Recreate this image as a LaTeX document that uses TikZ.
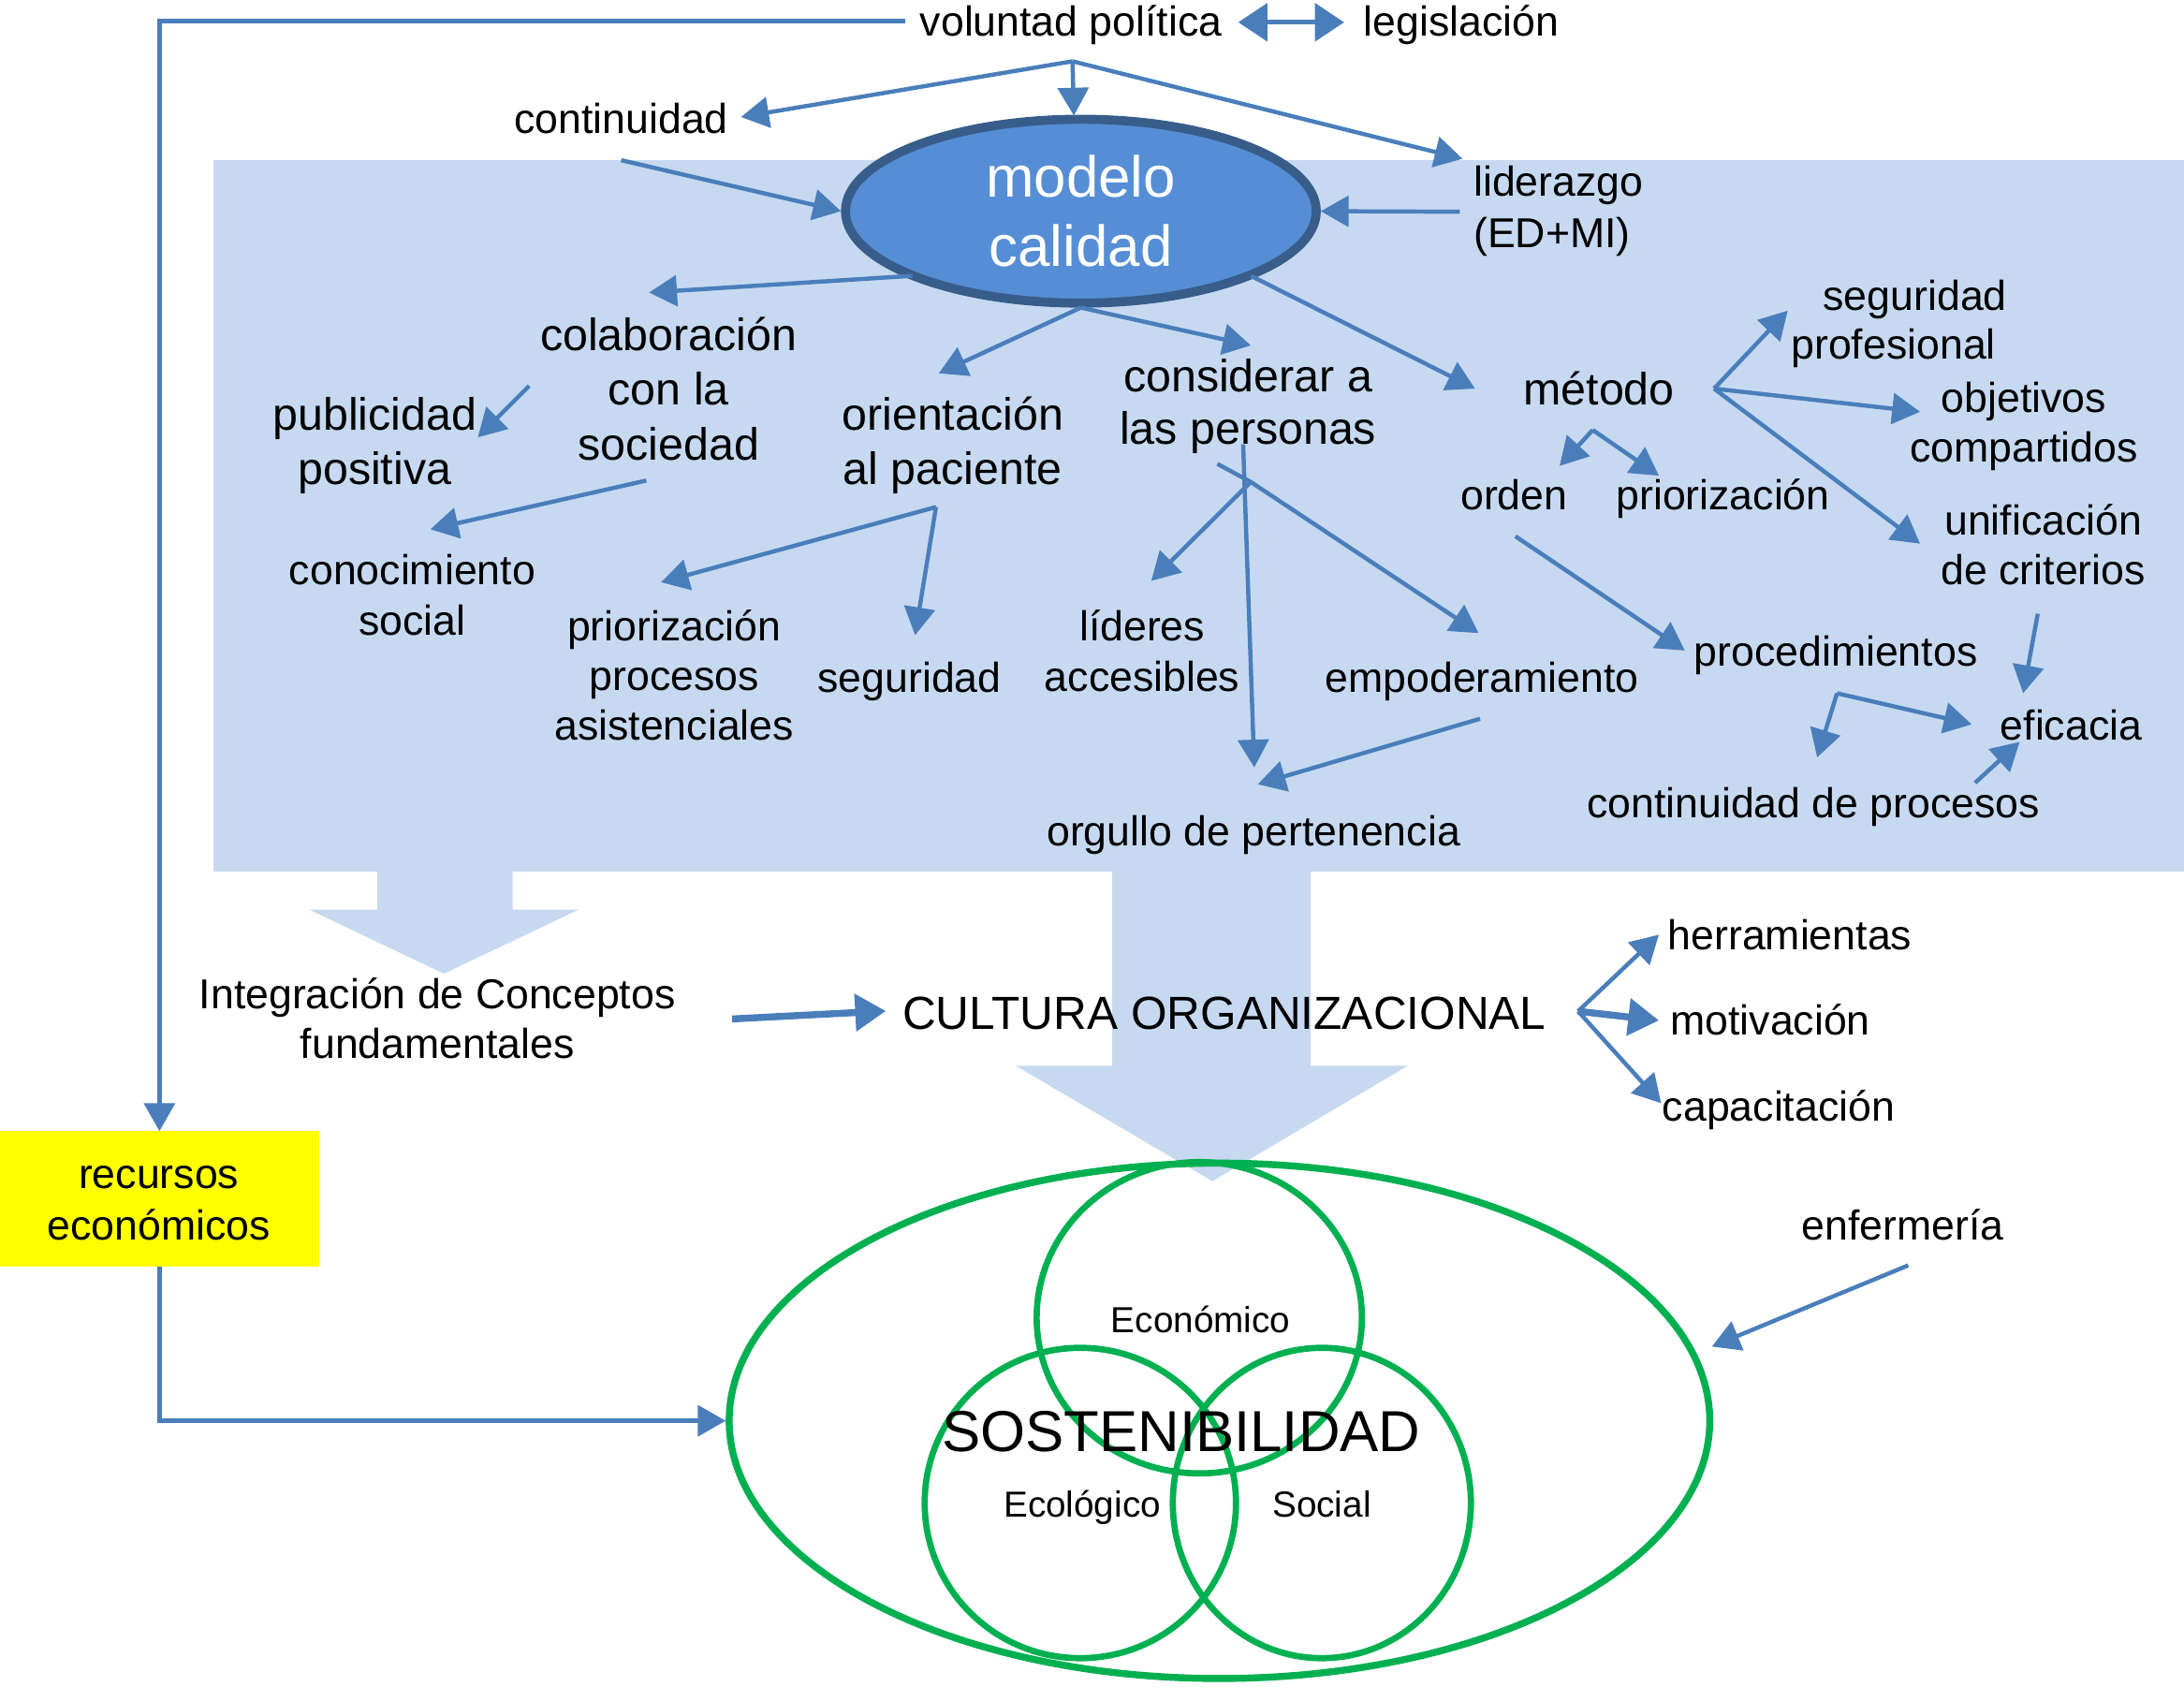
\documentclass[tikz,border=0pt]{standalone}
\usepackage{fontspec}
\setmainfont{Liberation Sans}
\usetikzlibrary{arrows.meta,shapes.geometric}
\definecolor{bgblue}{HTML}{C6D9F0}
\definecolor{lnblue}{HTML}{4A7EBB}
\definecolor{elfill}{HTML}{558ED5}
\definecolor{eldraw}{HTML}{385D8A}
\definecolor{grn}{HTML}{00B050}
\definecolor{yel}{HTML}{FFFF00}
\begin{document}
\begin{tikzpicture}[x=1pt,y=-1pt,
  lab/.style={inner sep=0pt, outer sep=0pt, anchor=base, align=center, font=\fontsize{30}{37}\selectfont},
  conn/.style={draw=lnblue, line width=3pt, -{Triangle[length=20pt,width=22pt]}},
  thickconn/.style={draw=lnblue, line width=5pt, -{Triangle[length=22pt,width=26pt]}},
  plainconn/.style={draw=lnblue, line width=3pt},
  venn/.style={ellipse, draw=grn, line width=4.5pt, inner sep=0pt},
  fs/.style={font=\fontsize{30}{#1}\selectfont},
  fb/.style={font=\fontsize{32.5}{#1}\selectfont}
]
\useasboundingbox (0,0) rectangle (1568,1211);
% background panel and broad arrows
\fill[bgblue] (153,115) rectangle (1568,626);
\fill[bgblue] (271,624) -- (368,624) -- (368,653) -- (415.5,653) -- (318.7,699) -- (222,653) -- (271,653) -- cycle;
\fill[bgblue] (798.5,624) -- (941,624) -- (941,765) -- (1011,765) -- (870.4,848) -- (729,765) -- (798.5,765) -- cycle;

% sustainability ellipses
\node[venn, line width=5pt, minimum width=704pt, minimum height=370pt] (sost) at (875.5,1020) {};
\node[venn, minimum width=233.5pt, minimum height=223.5pt] (eco) at (861,946) {};
\node[venn, minimum width=223.5pt, minimum height=222.8pt] (ecol) at (775.6,1079) {};
\node[venn, minimum width=214pt, minimum height=222.8pt] (soc) at (949,1079) {};
\node[lab, font=\fontsize{26}{30}\selectfont] (ecoT) at (862,957) {Económico};
\node[lab, font=\fontsize{41.5}{50}\selectfont] (sostT) at (848,1042) {SOSTENIBILIDAD};
\node[lab, font=\fontsize{26}{30}\selectfont] (ecolT) at (777,1089) {Ecológico};
\node[lab, font=\fontsize{26}{30}\selectfont] (socT) at (949,1089) {Social};

% text nodes (multi-line nodes placed at the baseline of their last line)
\node[lab] (vol) at (769,26) {voluntad política};
\node[lab] (leg) at (1049,26) {legislación};
\node[lab] (cont) at (446,96) {continuidad};
\node[lab, anchor=base west, align=left] (lid) at (1058,178) {liderazgo\\(ED+MI)};
\node[ellipse, fill=elfill, draw=eldraw, line width=6.5pt, minimum width=338pt, minimum height=132pt,
      inner sep=0pt, text=white, align=center, font=\fontsize{41.5}{50}\selectfont] (mc) at (776,151.6) {modelo\\calidad};
\node[lab, fb=39] (colab) at (480,330) {colaboración\\con la\\sociedad};
\node[lab, fb=39] (pub) at (269,348) {publicidad\\positiva};
\node[lab, fs=36] (conoc) at (296,456) {conocimiento\\social};
\node[lab, fb=39] (orient) at (684,348) {orientación\\al paciente};
\node[lab, fs=35.5] (prior) at (484,531) {priorización\\procesos\\asistenciales};
\node[lab] (seg) at (653,497) {seguridad};
\node[lab, fb=38] (consid) at (896,319) {considerar a\\las personas};
\node[lab, fs=36] (lideres) at (820,496) {líderes\\accesibles};
\node[lab] (empod) at (1064,497) {empoderamiento};
\node[lab] (orgullo) at (900,607) {orgullo de pertenencia};
\node[lab, fb=38] (metodo) at (1148,291) {método};
\node[lab] (orden) at (1087,366) {orden};
\node[lab] (priorz) at (1237,366) {priorización};
\node[lab, fs=35, anchor=base west, align=left] (segprof) at (1286,258) {\hspace*{23pt}seguridad\\profesional};
\node[lab, fs=36] (objet) at (1453,332) {objetivos\\compartidos};
\node[lab, fs=36] (unif) at (1467,420) {unificación\\de criterios};
\node[lab] (proced) at (1318,478) {procedimientos};
\node[lab] (efic) at (1487,531) {eficacia};
\node[lab] (contproc) at (1302,587) {continuidad de procesos};
\node[lab, fs=36] (integ) at (314,760) {Integración de Conceptos\\fundamentales};
\node[lab, font=\fontsize{33.3}{38}\selectfont] (cult) at (879,739) {CULTURA ORGANIZACIONAL};
\node[lab] (herr) at (1285,682) {herramientas};
\node[lab] (motiv) at (1271,743) {motivación};
\node[lab] (capac) at (1277,805) {capacitación};
\node[lab] (enf) at (1366,890) {enfermería};
\node[fill=yel, minimum width=229pt, minimum height=97pt, inner sep=0pt, outer sep=0pt] (rec) at (114.5,860.5) {};
\node[lab, fs=37] (recT) at (114,890) {recursos\\económicos};

% coordinates
\coordinate (vStart) at (650,15);
\coordinate (dA) at (889,16);
\coordinate (dB) at (965,16);
\coordinate (J0) at (770,44);
\coordinate (tCont) at (532,84);
\coordinate (tMc) at (771,83);
\coordinate (tLid) at (1050,114);
\coordinate (sCont) at (446,115);
\coordinate (sLid) at (1048,152);
\coordinate (sMc1) at (655,198);
\coordinate (tColab) at (466,210);
\coordinate (sColab) at (380,277);
\coordinate (tPub) at (343,314);
\coordinate (sSoc) at (464,345);
\coordinate (tConoc) at (309,380);
\coordinate (tOrient) at (674,268);
\coordinate (tConsid) at (898,248);
\coordinate (J2) at (672,364);
\coordinate (tPrior) at (474.5,418);
\coordinate (tSeg) at (657,456);
\coordinate (S0) at (874,333);
\coordinate (J3) at (898,346);
\coordinate (tLideres) at (826.5,417);
\coordinate (tEmpod) at (1061.6,454.5);
\coordinate (V0) at (892.5,319);
\coordinate (tOrg1) at (900.5,551);
\coordinate (sEmpod) at (1062.6,516);
\coordinate (tOrg2) at (903,563);
\coordinate (sMc2) at (898,198);
\coordinate (tMetodo) at (1059,279);
\coordinate (J4) at (1230.6,279);
\coordinate (tSegP) at (1283.5,223);
\coordinate (tObj) at (1378.5,295.6);
\coordinate (tUnif) at (1378.5,390.3);
\coordinate (J5) at (1143.5,308.7);
\coordinate (tOrden) at (1119.7,334.5);
\coordinate (tPriorz) at (1191,341.5);
\coordinate (sOrden) at (1088,385);
\coordinate (tProced) at (1209.6,467);
\coordinate (sUnif) at (1463,440.6);
\coordinate (tEfic1) at (1452.5,497.7);
\coordinate (J6) at (1318.9,497.7);
\coordinate (tCP) at (1304.6,543.8);
\coordinate (tEfic2) at (1415.6,520);
\coordinate (sCP) at (1418,562);
\coordinate (tEfic3) at (1450,532.6);
\coordinate (sInteg) at (525.6,731.5);
\coordinate (tCult) at (636,725.8);
\coordinate (J7) at (1133,726);
\coordinate (tHerr) at (1191,671);
\coordinate (tMotiv) at (1191,732.6);
\coordinate (tCapac) at (1192.6,792);
\coordinate (sEnf) at (1370,908.4);
\coordinate (tSost) at (1229,966.7);

% connectors
\draw[conn] (vStart) -| (rec.north);
\draw[draw=lnblue, line width=3.5pt, {Triangle[length=21pt,width=27pt]}-{Triangle[length=21pt,width=27pt]}] (dA) -- (dB);
\draw[conn] (J0) -- (tCont);
\draw[conn] (J0) -- (tMc);
\draw[conn] (J0) -- (tLid);
\draw[conn] (sCont) -- (mc.west);
\draw[conn] (sLid) -- (mc.east);
\draw[conn] (sMc1) -- (tColab);
\draw[conn] (sColab) -- (tPub);
\draw[conn] (sSoc) -- (tConoc);
\draw[conn] (mc.south) -- (tOrient);
\draw[conn] (mc.south) -- (tConsid);
\draw[conn] (J2) -- (tPrior);
\draw[conn] (J2) -- (tSeg);
\draw[plainconn] (S0) -- (J3);
\draw[conn] (J3) -- (tLideres);
\draw[conn] (J3) -- (tEmpod);
\draw[conn] (V0) -- (tOrg1);
\draw[conn] (sEmpod) -- (tOrg2);
\draw[conn] (sMc2) -- (tMetodo);
\draw[conn] (J4) -- (tSegP);
\draw[conn] (J4) -- (tObj);
\draw[conn] (J4) -- (tUnif);
\draw[conn] (J5) -- (tOrden);
\draw[conn] (J5) -- (tPriorz);
\draw[conn] (sOrden) -- (tProced);
\draw[conn] (sUnif) -- (tEfic1);
\draw[conn] (J6) -- (tCP);
\draw[conn] (J6) -- (tEfic2);
\draw[conn] (sCP) -- (tEfic3);
\draw[thickconn] (sInteg) -- (tCult);
\draw[conn] (J7) -- (tHerr);
\draw[thickconn] (J7) -- (tMotiv);
\draw[conn] (J7) -- (tCapac);
\draw[conn] (sEnf) -- (tSost);
\draw[conn] (rec.south) |- (sost.west);
\end{tikzpicture}
\end{document}
